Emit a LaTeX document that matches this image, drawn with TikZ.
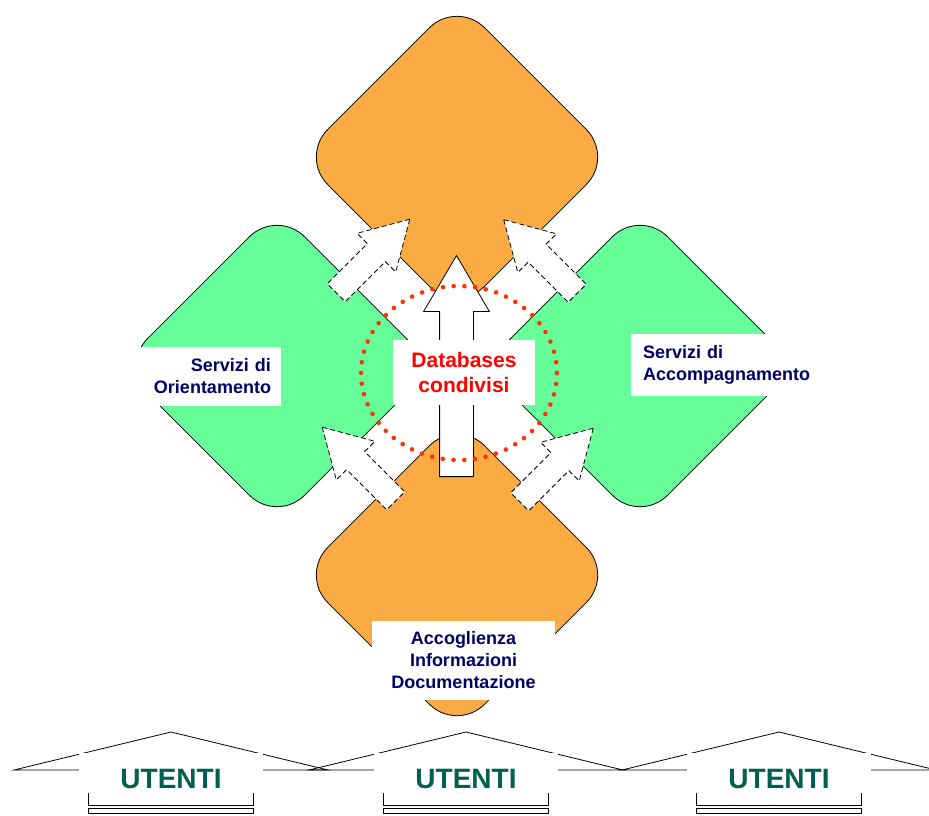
\documentclass[tikz,border=0pt]{standalone}
\usepackage{fontspec}
\setmainfont{Liberation Sans}
\usetikzlibrary{shapes.geometric,shapes.arrows}
\definecolor{arancio}{RGB}{251,171,67}
\definecolor{verde}{RGB}{102,255,153}
\definecolor{blu}{RGB}{0,0,102}
\definecolor{puntini}{RGB}{255,51,0}
\definecolor{utenti}{RGB}{0,96,80}
\begin{document}
\begin{tikzpicture}[x=1pt,y=-1pt,line width=0.8pt]
  \tikzstyle{rombo} = [diamond, draw, minimum width=314pt, minimum height=314pt, inner sep=0pt, rounded corners=39pt];
  \tikzstyle{freccia} = [single arrow, draw, fill=white, dash pattern=on 5pt off 3pt, inner sep=12.3pt, minimum width=53.6pt, minimum height=104pt, single arrow head extend=14.6pt, single arrow tip angle=60, anchor=tail];
  \tikzstyle{etichetta} = [fill=white, inner ysep=0pt, text=blu, font=\bfseries\fontsize{18}{22}\selectfont];
  \useasboundingbox (0,0) rectangle (929,815);
  \node[rombo, fill=verde] (sx) at (277,366) {};
  \node[rombo, fill=verde] (dx) at (640,366) {};
  \node[rombo, fill=arancio] (su) at (457,157) {};
  \node[rombo, fill=arancio] (giu) at (457,575) {};
  \foreach \n/\x/\y/\a in {f1/336/293/45, f2/577.5/293.5/135, f3/396/501/135, f4/519.5/502/45}{
    \node[freccia, rotate=\a] (\n) at (\x,\y) {};
  }
  \node[single arrow, draw, fill=white, inner sep=16.5pt, minimum width=65pt, minimum height=221pt, single arrow head extend=16pt, single arrow tip angle=61, rotate=90, anchor=tail] (centro) at (456.5,477) {};
  \draw[puntini, line width=4.6pt, line cap=round, dash pattern=on 0pt off 10.77pt] (459,373) ellipse [x radius=98pt, y radius=87pt];
  \node[fill=white, text=red, font=\bfseries\fontsize{21}{25}\selectfont, align=center, minimum width=142pt, minimum height=65pt] (db) at (464,372.5) {Databases\\condivisi};
  \node[etichetta, text width=129pt, inner xsep=10pt, minimum height=59pt, align=right] (orient) at (206.5,376.5) {Servizi di\\Orientamento};
  \node[etichetta, text width=168pt, inner xsep=12pt, minimum height=62pt, align=left] (accomp) at (727,365) {Servizi di\\Accompagnamento};
  \node[etichetta, text width=171pt, inner xsep=6pt, minimum height=79pt, align=center] (accog) at (463.5,660.5) {Accoglienza\\Informazioni\\Documentazione};
  \foreach \c [count=\i] in {171,466,779}{
    \draw (\c-157,770) -- (\c,732) -- (\c+157,770) -- cycle;
    \fill[white] (\c-92,753) rectangle (\c+92,790);
    \node[text=utenti, font=\bfseries\fontsize{28}{32}\selectfont] (u\i) at (\c,779) {UTENTI};
    \draw (\c-83,793) -- (\c-83,805) -- (\c+82,805) -- (\c+82,793);
    \draw (\c-83,808) rectangle (\c+82,813);
  }
\end{tikzpicture}
\end{document}
